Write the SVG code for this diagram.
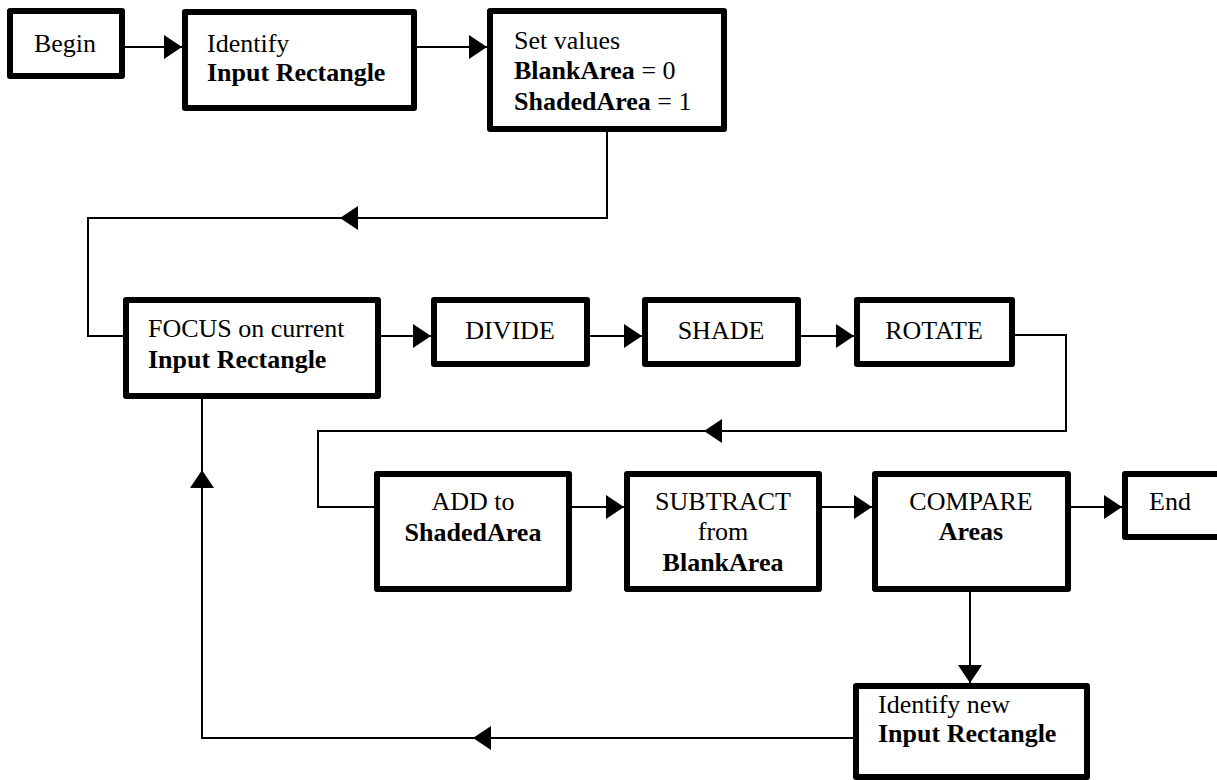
<svg xmlns="http://www.w3.org/2000/svg" width="1217" height="780" viewBox="0 0 1217 780">
<style>
.box{fill:#fff;stroke:#000;stroke-width:6;stroke-linejoin:round}
.t{font-family:"Liberation Serif","Times New Roman",serif;font-size:26px;fill:#000}
.c{text-anchor:middle}
.b{font-weight:bold}
.con{fill:none;stroke:#000;stroke-width:2}
</style>
<defs>
<marker id="ah" markerUnits="userSpaceOnUse" markerWidth="18" markerHeight="24" refX="18" refY="12" orient="auto">
<path d="M0,0 L18,12 L0,24 z" fill="#000"/>
</marker>
</defs>
<rect width="1217" height="780" fill="#fff"/>
<g id="connectors">
<path class="con" d="M125,47 H182" marker-end="url(#ah)"/>
<path class="con" d="M417,47 H487" marker-end="url(#ah)"/>
<path class="con" d="M607,132 V218 H340" marker-end="url(#ah)"/>
<path class="con" d="M340,218 H88 V336 H123"/>
<path class="con" d="M381,336 H431" marker-end="url(#ah)"/>
<path class="con" d="M590,336 H642" marker-end="url(#ah)"/>
<path class="con" d="M801,336 H854" marker-end="url(#ah)"/>
<path class="con" d="M1015,335 H1066 V431 H704" marker-end="url(#ah)"/>
<path class="con" d="M704,431 H318 V507 H374"/>
<path class="con" d="M572,507 H624" marker-end="url(#ah)"/>
<path class="con" d="M822,507 H872" marker-end="url(#ah)"/>
<path class="con" d="M1071,507 H1122" marker-end="url(#ah)"/>
<path class="con" d="M970,591 V683" marker-end="url(#ah)"/>
<path class="con" d="M853,738 H473" marker-end="url(#ah)"/>
<path class="con" d="M473,738 H202 V470" marker-end="url(#ah)"/>
<path class="con" d="M202,470 V399"/>
</g>
<g id="begin">
<rect class="box" x="10" y="11" width="112" height="65"/>
<text class="t c" x="65" y="52">Begin</text>
</g>
<g id="identify">
<rect class="box" x="185" y="12" width="229" height="96"/>
<text class="t" x="207" y="52">Identify</text>
<text class="t b" x="207" y="81">Input Rectangle</text>
</g>
<g id="setvalues">
<rect class="box" x="490" y="11" width="234" height="118"/>
<text class="t" x="514" y="49">Set values</text>
<text class="t" x="514" y="79"><tspan class="b">BlankArea</tspan> = 0</text>
<text class="t" x="514" y="110"><tspan class="b">ShadedArea</tspan> = 1</text>
</g>
<g id="focus">
<rect class="box" x="126" y="300" width="252" height="96"/>
<text class="t" x="148" y="337">FOCUS on current</text>
<text class="t b" x="148" y="368">Input Rectangle</text>
</g>
<g id="divide">
<rect class="box" x="434" y="300" width="153" height="64"/>
<text class="t c" x="510" y="339">DIVIDE</text>
</g>
<g id="shade">
<rect class="box" x="645" y="300" width="153" height="64"/>
<text class="t c" x="721" y="339">SHADE</text>
</g>
<g id="rotate">
<rect class="box" x="857" y="300" width="155" height="64"/>
<text class="t c" x="934" y="339">ROTATE</text>
</g>
<g id="add">
<rect class="box" x="377" y="474" width="192" height="115"/>
<text class="t c" x="473" y="510">ADD to</text>
<text class="t c b" x="473" y="541">ShadedArea</text>
</g>
<g id="subtract">
<rect class="box" x="627" y="474" width="192" height="115"/>
<text class="t c" x="723" y="510">SUBTRACT</text>
<text class="t c" x="723" y="540">from</text>
<text class="t c b" x="723" y="571">BlankArea</text>
</g>
<g id="compare">
<rect class="box" x="875" y="474" width="193" height="115"/>
<text class="t c" x="971" y="510">COMPARE</text>
<text class="t c b" x="971" y="540">Areas</text>
</g>
<g id="end">
<rect class="box" x="1125" y="474" width="100" height="63"/>
<text class="t c" x="1170" y="510">End</text>
</g>
<g id="identifynew">
<rect class="box" x="856" y="686" width="231" height="91"/>
<text class="t" x="878" y="713">Identify new</text>
<text class="t b" x="878" y="742">Input Rectangle</text>
</g>
</svg>
